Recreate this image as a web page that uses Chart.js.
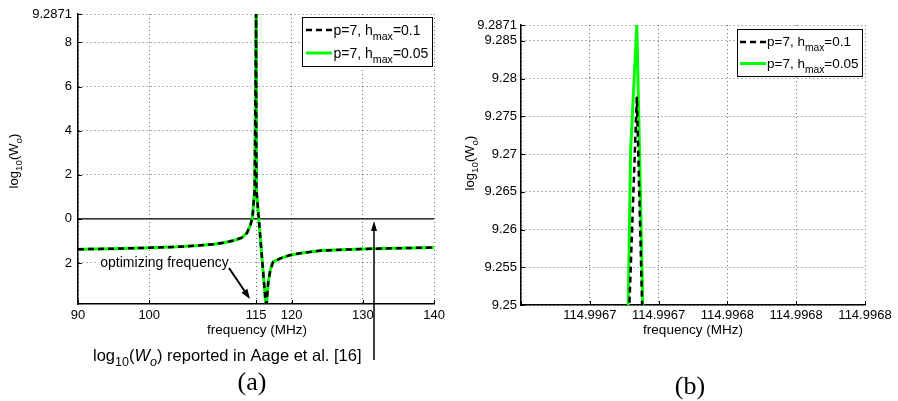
<!DOCTYPE html>
<html><head><meta charset="utf-8">
<script src="https://cdn.jsdelivr.net/npm/chart.js@4/dist/chart.umd.min.js"></script>
<style>
html,body{margin:0;padding:0;background:#fff;width:898px;height:401px;overflow:hidden}
.w{position:absolute;top:0;width:449px;height:401px}
</style></head><body>
<div class="w" style="left:0"><canvas id="ca" width="449" height="401"></canvas></div>
<div class="w" style="left:449px"><canvas id="cb" width="449" height="401"></canvas></div>
<script>
// ---------- data: panel (a) ----------
const freqA = [90, 95, 100, 104, 107, 109, 110.5, 112, 113, 113.7, 114.2, 114.5, 114.8, 115.0, 115.05, 116.42, 116.7, 117.0, 117.4, 118.5, 119.6, 121, 122.5, 124.2, 127, 131, 135, 140];
const logW_h01_A = [-1.38, -1.35, -1.31, -1.27, -1.21, -1.15, -1.08, -0.97, -0.85, -0.65, -0.3, 0.1, 1.3, 9.2871, 1.3, -4.1, -2.9, -2.3, -1.95, -1.78, -1.66, -1.57, -1.50, -1.44, -1.40, -1.36, -1.33, -1.30];
const logW_h005_A = [-1.38, -1.35, -1.31, -1.27, -1.21, -1.15, -1.08, -0.97, -0.85, -0.65, -0.3, 0.1, 1.3, 9.2871, 1.3, -4.1, -2.9, -2.3, -1.95, -1.78, -1.66, -1.57, -1.50, -1.44, -1.40, -1.36, -1.33, -1.30];
const aageFreq = [90, 140];
const aageLogW = [0, 0];
const xTicksA = [90, 100, 115, 120, 130, 140];
const yTicksA = [-2, 0, 2, 4, 6, 8, 9.2871];
const yTickLabelsA = ['2', '0', '2', '4', '6', '8', '9.2871'];
// ---------- data: panel (b) ----------
const freqB_h01 = [114.9967114, 114.9967205, 114.9967270];
const logW_h01_B = [9.2, 9.2776, 9.2];
const freqB_h005 = [114.9967142, 114.9967178, 114.9967205, 114.9967266];
const logW_h005_B = [9.2, 9.2705, 9.2871, 9.2];
const xTicksB = [114.99667, 114.99670, 114.99673, 114.99676, 114.99679, 114.99682];
const xTickLabelsB = ['', '114.9967', '114.9967', '114.9968', '114.9968', '114.9968'];
const yTicksB = [9.25, 9.255, 9.26, 9.265, 9.27, 9.275, 9.28, 9.285, 9.2871];
const yTickLabelsB = ['9.25', '9.255', '9.26', '9.265', '9.27', '9.275', '9.28', '9.285', '9.2871'];
const seriesLabels = [[['p=7, h'], ['max', 's'], ['=0.1']], [['p=7, h'], ['max', 's'], ['=0.05']]];

const FONT = '"Liberation Sans", Arial, Helvetica, sans-serif';
const SERIF = '"Liberation Serif", "Times New Roman", serif';
const GREEN = '#00ff00';

function pts(xs, ys) { return xs.map((x, i) => ({x: x, y: ys[i]})); }

function drawRich(ctx, parts, x, y, size, align, subDy) {
  const segs = parts.map(p => {
    const f = p[1] || '';
    const sub = f.includes('s'), it = f.includes('i');
    const sz = sub ? size * 0.76 : size;
    const font = (it ? 'italic ' : '') + sz + 'px ' + FONT;
    ctx.font = font;
    return {t: p[0], font: font, w: ctx.measureText(p[0]).width, dy: sub ? size * (subDy || 0.3) : 0};
  });
  const total = segs.reduce((a, s) => a + s.w, 0);
  let cx = align === 'center' ? x - total / 2 : (align === 'right' ? x - total : x);
  ctx.textAlign = 'left'; ctx.textBaseline = 'alphabetic';
  for (const s of segs) { ctx.font = s.font; ctx.fillText(s.t, cx, y + s.dy); cx += s.w; }
  return total;
}

function arrow(ctx, x1, y1, x2, y2, lw, hl, hw) {
  const a = Math.atan2(y2 - y1, x2 - x1);
  const bx = x2 - hl * Math.cos(a), by = y2 - hl * Math.sin(a);
  ctx.save();
  ctx.strokeStyle = '#000'; ctx.fillStyle = '#000'; ctx.lineWidth = lw;
  ctx.beginPath(); ctx.moveTo(x1, y1); ctx.lineTo(bx, by); ctx.stroke();
  ctx.beginPath();
  ctx.moveTo(x2, y2);
  ctx.lineTo(bx + hw / 2 * Math.sin(a), by - hw / 2 * Math.cos(a));
  ctx.lineTo(bx - hw / 2 * Math.sin(a), by + hw / 2 * Math.cos(a));
  ctx.closePath(); ctx.fill();
  ctx.restore();
}

function drawLegend(chart, L) {
  const ctx = chart.ctx, ds = chart.data.datasets;
  ctx.save();
  ctx.fillStyle = '#fff'; ctx.fillRect(L.x1, L.y1, L.x2 - L.x1, L.y2 - L.y1);
  ctx.strokeStyle = '#000'; ctx.lineWidth = 1; ctx.strokeRect(L.x1 + 0.5, L.y1 + 0.5, L.x2 - L.x1, L.y2 - L.y1);
  L.rows.forEach((r, i) => {
    ctx.save();
    ctx.strokeStyle = ds[i].borderColor; ctx.lineWidth = ds[i].borderWidth;
    ctx.setLineDash(ds[i].borderDash || []);
    ctx.beginPath(); ctx.moveTo(L.lx1, r.ly); ctx.lineTo(L.lx2, r.ly); ctx.stroke();
    ctx.restore();
    ctx.fillStyle = '#000';
    drawRich(ctx, seriesLabels[i], L.tx, r.base, L.size, 'left', 0.38);
  });
  ctx.restore();
}

function innerTicks(chart) {
  const ctx = chart.ctx, ca = chart.chartArea, sx = chart.scales.x, sy = chart.scales.y;
  ctx.save(); ctx.strokeStyle = '#000'; ctx.lineWidth = 1;
  sy.ticks.forEach(t => { const p = Math.round(sy.getPixelForValue(t.value)) + 0.5; ctx.beginPath(); ctx.moveTo(ca.left, p); ctx.lineTo(ca.left + 4, p); ctx.stroke(); });
  sx.ticks.forEach(t => { const p = Math.round(sx.getPixelForValue(t.value)) + 0.5; ctx.beginPath(); ctx.moveTo(p, ca.bottom); ctx.lineTo(p, ca.bottom - 4); ctx.stroke(); });
  ctx.restore();
}

function yTitle(ctx, bx, cy) {
  ctx.save(); ctx.translate(bx, cy); ctx.rotate(-Math.PI / 2); ctx.fillStyle = '#000';
  drawRich(ctx, [['log'], ['10', 's'], ['(W'], ['o', 's'], [')']], 0, 0, 13, 'center', 0.3);
  ctx.restore();
}

function centerText(ctx, t, x, y, font) {
  ctx.save(); ctx.font = font; ctx.fillStyle = '#000'; ctx.textAlign = 'center'; ctx.textBaseline = 'middle';
  ctx.fillText(t, x, y); ctx.restore();
}

const annotA = {
  id: 'annotA',
  afterDraw(chart) {
    const ctx = chart.ctx;
    innerTicks(chart);
    yTitle(ctx, 18, 161);
    centerText(ctx, 'frequency (MHz)', 257, 330, '13.5px ' + FONT);
    drawLegend(chart, {x1: 302, y1: 17, x2: 432, y2: 66, lx1: 306, lx2: 332, tx: 333.5, size: 14,
      rows: [{ly: 30, base: 34.5}, {ly: 53, base: 57.5}]});
    // optimizing frequency
    ctx.save(); ctx.font = '14px ' + FONT;
    const w = ctx.measureText('optimizing frequency').width;
    ctx.fillStyle = '#fff'; ctx.fillRect(164.5 - w / 2 - 2, 256, w + 4, 14);
    ctx.restore();
    centerText(ctx, 'optimizing frequency', 164.5, 263, '14px ' + FONT);
    arrow(ctx, 229, 268, 250, 299, 2, 10, 7);
    arrow(ctx, 374, 360, 374, 221, 1.5, 10, 6);
    ctx.save(); ctx.fillStyle = '#000';
    drawRich(ctx, [['log'], ['10', 's'], ['('], ['W', 'i'], ['o', 'si'], [') reported in Aage et al. [16]']], 93, 361, 16.5, 'left', 0.3);
    ctx.restore();
    centerText(ctx, '(a)', 252, 383, '26px ' + SERIF);
  }
};

const annotB = {
  id: 'annotB',
  afterDraw(chart) {
    const ctx = chart.ctx, ox = 449;
    innerTicks(chart);
    ctx.save(); ctx.translate(-ox, 0);
    yTitle(ctx, 474, 163);
    centerText(ctx, 'frequency (MHz)', 693, 330, '13.5px ' + FONT);
    drawLegend(chart, {x1: 737, y1: 29, x2: 862, y2: 76, lx1: 740, lx2: 766, tx: 767, size: 13.5,
      rows: [{ly: 42, base: 46}, {ly: 63.5, base: 67.5}]});
    centerText(ctx, '(b)', 690, 387, '26px ' + SERIF);
    ctx.restore();
  }
};

function axisOpts(extra) {
  return Object.assign({
    type: 'linear',
    grid: {color: 'rgba(0,0,0,0.6)', lineWidth: 1, drawTicks: false},
    border: {display: true, color: '#000', width: 1.5, dash: [1, 3]},
    ticks: {autoSkip: false, maxRotation: 0, minRotation: 0, color: '#000', font: {family: FONT, size: 13}}
  }, extra);
}

new Chart(document.getElementById('ca'), {
  type: 'line',
  data: {datasets: [
    {label: 'p=7, h_max=0.1', data: pts(freqA, logW_h01_A), borderColor: '#000', borderWidth: 2.5, borderDash: [6, 4], pointRadius: 0, tension: 0, fill: false},
    {label: 'p=7, h_max=0.05', data: pts(freqA, logW_h005_A), borderColor: GREEN, borderWidth: 3, pointRadius: 0, tension: 0, fill: false},
    {label: 'Aage et al.', data: pts(aageFreq, aageLogW), borderColor: '#000', borderWidth: 1.2, pointRadius: 0, tension: 0, fill: false}
  ]},
  options: {
    responsive: false, animation: false, devicePixelRatio: 1,
    layout: {padding: {left: 0, right: 12.5, top: 14, bottom: 0}},
    plugins: {legend: {display: false}, tooltip: {enabled: false}},
    scales: {
      x: axisOpts({min: 90, max: 140,
        afterFit(s) { s.height = 97; },
        afterBuildTicks(s) { s.ticks = xTicksA.map(v => ({value: v})); },
        ticks: {autoSkip: false, maxRotation: 0, minRotation: 0, padding: 4, color: '#000', font: {family: FONT, size: 13}}}),
      y: axisOpts({min: -3.86, max: 9.2871,
        afterFit(s) { s.width = 78; },
        afterBuildTicks(s) { s.ticks = yTicksA.map(v => ({value: v})); },
        ticks: {autoSkip: false, padding: 6, color: '#000', font: {family: FONT, size: 13},
          callback: (v, i) => yTickLabelsA[i]}})
    }
  },
  plugins: [annotA]
});

new Chart(document.getElementById('cb'), {
  type: 'line',
  data: {datasets: [
    {label: 'p=7, h_max=0.1', data: pts(freqB_h01, logW_h01_B), borderColor: '#000', borderWidth: 2.5, borderDash: [6, 4], pointRadius: 0, tension: 0, fill: false},
    {label: 'p=7, h_max=0.05', data: pts(freqB_h005, logW_h005_B), borderColor: GREEN, borderWidth: 3, pointRadius: 0, tension: 0, fill: false}
  ]},
  options: {
    responsive: false, animation: false, devicePixelRatio: 1,
    layout: {padding: {left: 0, right: 33, top: 25, bottom: 0}},
    plugins: {legend: {display: false}, tooltip: {enabled: false}},
    scales: {
      x: axisOpts({min: 114.99667, max: 114.99682,
        afterFit(s) { s.height = 96; },
        afterBuildTicks(s) { s.ticks = xTicksB.map(v => ({value: v})); },
        ticks: {autoSkip: false, maxRotation: 0, minRotation: 0, padding: 3, color: '#000', font: {family: FONT, size: 13},
          callback: (v, i) => xTickLabelsB[i]}}),
      y: axisOpts({min: 9.25, max: 9.2871,
        afterFit(s) { s.width = 72; },
        afterBuildTicks(s) { s.ticks = yTicksB.map(v => ({value: v})); },
        ticks: {autoSkip: false, padding: 4, color: '#000', font: {family: FONT, size: 13},
          callback: (v, i) => yTickLabelsB[i]}})
    }
  },
  plugins: [annotB]
});
</script>
</body></html>
